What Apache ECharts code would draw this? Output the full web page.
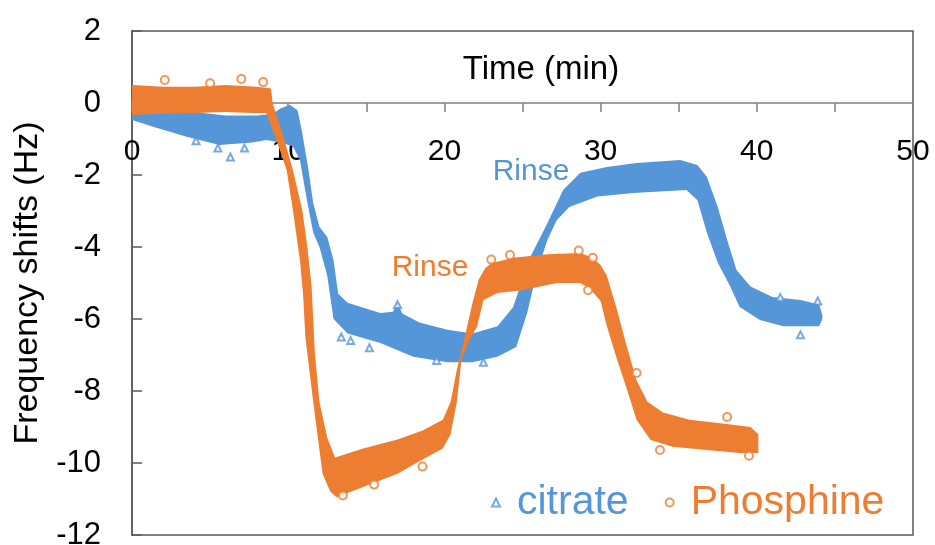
<!DOCTYPE html>
<html>
<head>
<meta charset="utf-8">
<script src="https://cdn.jsdelivr.net/npm/echarts@6/dist/echarts.min.js"></script>
<style>html,body{margin:0;padding:0;background:#fff}#c{width:935px;height:545px}</style>
</head>
<body>
<div id="c"></div>
<script>
// ---- data (Time in min, frequency shift in Hz) ----
// Phosphine band: upper/outer edge and lower/inner edge
var phosTopT = [0, 2, 4, 6, 8, 8.9, 9.0, 9.7, 10.3, 10.9, 11.2, 11.5, 11.7, 12.0, 12.5, 13.0, 14.8, 17.0, 18.6, 19.9, 20.4, 20.8, 21.3, 21.8, 22.2, 22.6, 23.0, 24.4, 26.6, 28.7, 29.5, 30.0, 30.4, 31.0, 31.7, 32.3, 33.0, 34.0, 35.7, 37.8, 39.6, 40.1];
var phosTopV = [0.5, 0.45, 0.45, 0.5, 0.45, 0.4, 0.0, -0.94, -1.86, -2.97, -3.9, -5.1, -6.9, -8.3, -9.3, -9.85, -9.6, -9.35, -9.1, -8.8, -8.3, -7.4, -6.5, -5.55, -4.9, -4.6, -4.45, -4.3, -4.2, -4.17, -4.3, -4.5, -4.8, -5.67, -6.8, -7.7, -8.3, -8.6, -8.8, -8.9, -9.0, -9.2];
var phosBotT = [0, 2, 4, 6, 7.7, 8.6, 9.3, 9.9, 10.3, 10.75, 10.95, 11.1, 11.6, 11.9, 12.2, 12.7, 13.1, 14.8, 17.0, 18.6, 19.9, 20.4, 20.8, 21.1, 21.6, 22.1, 22.5, 23.4, 25.0, 27.2, 28.7, 29.3, 30.0, 30.4, 31.0, 31.7, 32.3, 33.2, 34.6, 36.8, 38.9, 40.1];
var phosBotV = [-0.33, -0.3, -0.28, -0.25, -0.28, -0.28, -1.1, -1.86, -2.97, -4.36, -5.3, -6.5, -8.3, -9.3, -10.3, -10.8, -10.95, -10.67, -10.3, -9.9, -9.6, -9.2, -8.3, -7.1, -6.6, -6.2, -5.47, -5.28, -5.2, -5.0, -5.0, -5.15, -5.5, -6.2, -7.05, -7.97, -8.8, -9.36, -9.55, -9.64, -9.72, -9.72];
// citrate band
var citTopT = [0, 2, 4, 6, 8, 9.0, 9.5, 10.1, 10.6, 10.9, 11.3, 11.6, 12.0, 12.5, 12.9, 13.2, 13.8, 15.9, 16.7, 17.0, 17.3, 18.4, 20.2, 21.8, 23.4, 24.4, 25.5, 26.6, 27.6, 28.7, 30.4, 32.3, 35.1, 36.2, 36.8, 37.5, 38.1, 38.7, 39.6, 41.0, 42.8, 44.0, 44.2];
var citTopV = [-0.05, -0.15, -0.25, -0.35, -0.35, -0.3, -0.15, -0.05, -0.2, -0.83, -1.86, -2.78, -3.44, -3.72, -4.36, -5.3, -5.55, -5.83, -5.8, -5.55, -5.85, -6.1, -6.3, -6.4, -6.2, -5.67, -4.28, -3.33, -2.42, -1.94, -1.78, -1.67, -1.58, -1.72, -2.05, -2.89, -3.8, -4.64, -5.1, -5.39, -5.47, -5.6, -5.9];
var citBotT = [0, 1.35, 3.5, 5.6, 7.7, 8.6, 9.5, 10.3, 10.75, 11.2, 11.6, 12.0, 12.5, 12.9, 13.8, 15.9, 18.0, 20.2, 21.8, 23.4, 24.6, 25.3, 25.9, 26.6, 27.2, 28.0, 29.8, 32.1, 35.5, 36.2, 36.8, 37.5, 38.3, 38.9, 40.2, 41.7, 44.0, 44.2];
var citBotV = [-0.47, -0.66, -0.94, -1.17, -1.1, -1.03, -1.1, -1.2, -1.58, -2.7, -3.6, -4.0, -4.8, -6.0, -6.4, -6.67, -7.05, -7.2, -7.2, -7.05, -6.78, -5.83, -4.72, -3.8, -3.25, -2.89, -2.6, -2.5, -2.42, -2.7, -3.6, -4.44, -5.1, -5.67, -6.03, -6.2, -6.2, -6.0];
// scattered individual markers at the band edges
var citOutT = [5.5, 6.3, 7.2, 4.1, 15.2, 17.0, 14.0, 19.5, 22.5, 42.8, 43.9, 41.5, 13.4];
var citOutV = [-1.25, -1.5, -1.25, -1.05, -6.8, -5.6, -6.6, -7.15, -7.2, -6.44, -5.5, -5.4, -6.5];
var phosOutT = [2.1, 7.0, 8.4, 5.0, 24.2, 28.6, 29.5, 29.2, 18.6, 13.5, 38.1, 33.8, 32.3, 23.0, 39.5, 15.5];
var phosOutV = [0.64, 0.67, 0.58, 0.55, -4.22, -4.1, -4.3, -5.2, -10.1, -10.9, -8.72, -9.64, -7.5, -4.35, -9.8, -10.6];
var xTicks = [0, 10, 20, 30, 40, 50];
var yTicks = [-12, -10, -8, -6, -4, -2, 0, 2];

var BLUE = '#5596D8', ORANGE = '#ED7D31';
var FONT = '"Liberation Sans", Arial, sans-serif';
var Y_MIN = -12, Y_MAX = 2, GRID_TOP = 31, GRID_BOTTOM = 10, H = 545;

function zip(t, v) { return t.map(function (x, i) { return [x, v[i]]; }); }
function band(topT, topV, botT, botV) {
  return zip(topT, topV).concat(zip(botT, botV).reverse());
}
function polySeries(name, pts, color) {
  return {
    type: 'custom', name: name, silent: true,
    data: [pts[0]],
    renderItem: function (params, api) {
      return {
        type: 'polygon',
        shape: { points: pts.map(function (p) { return api.coord(p); }) },
        style: { fill: color }
      };
    }
  };
}
// x axis sits on y = 0: distance from the top of the grid to the zero line
var gridH = H - GRID_TOP - GRID_BOTTOM;
var zeroOffset = gridH * (Y_MAX - 0) / (Y_MAX - Y_MIN);

var chart = echarts.init(document.getElementById('c'), null, { renderer: 'canvas' });
chart.setOption({
  animation: false,
  backgroundColor: '#fff',
  textStyle: { fontFamily: FONT },
  grid: { left: 132, right: 22, top: GRID_TOP, bottom: GRID_BOTTOM, containLabel: false, outerBoundsMode: 'none',
          show: true, borderColor: '#595959', borderWidth: 1.5, backgroundColor: 'transparent' },
  xAxis: {
    type: 'value', min: 0, max: 50, interval: 5, position: 'top', offset: -zeroOffset,
    axisLine: { onZero: false, lineStyle: { color: '#808080', width: 1.5 } },
    axisTick: { show: true, inside: true, length: 9, lineStyle: { color: '#808080', width: 1.5 } },
    axisLabel: {
      inside: true, margin: 34, color: '#000', fontSize: 30, fontFamily: FONT,
      formatter: function (v) { return xTicks.indexOf(v) >= 0 ? String(v) : ''; }
    },
    splitLine: { show: false }
  },
  yAxis: {
    type: 'value', min: Y_MIN, max: Y_MAX, interval: 2,
    name: 'Frequency shifts (Hz)', nameLocation: 'middle', nameGap: 87,
    nameTextStyle: { fontSize: 34, color: '#000', fontFamily: FONT },
    axisLine: { show: true, onZero: false, lineStyle: { color: '#595959', width: 1.5 } },
    axisTick: { show: true, inside: true, length: 10, lineStyle: { color: '#595959', width: 1.5 } },
    axisLabel: {
      margin: 31, color: '#000', fontSize: 31, fontFamily: FONT,
      formatter: function (v) { return yTicks.indexOf(v) >= 0 ? String(v) : ''; }
    },
    splitLine: { show: false }
  },
  legend: {
    left: 486, top: 477, orient: 'horizontal',
    itemWidth: 8, itemHeight: 8, itemGap: 36,
    textStyle: { fontSize: 41, fontFamily: FONT, padding: [0, 0, 0, 12] },
    data: [
      { name: 'citrate', textStyle: { color: BLUE } },
      { name: 'Phosphine', textStyle: { color: ORANGE } }
    ]
  },
  graphic: [
    { type: 'text', x: 541, y: 70, style: { text: 'Time (min)', fill: '#000', font: '33px ' + FONT, textAlign: 'center', textVerticalAlign: 'middle' } },
    { type: 'text', x: 531, y: 172, style: { text: 'Rinse', fill: BLUE, font: '30px ' + FONT, textAlign: 'center', textVerticalAlign: 'middle' } },
    { type: 'text', x: 430, y: 268, style: { text: 'Rinse', fill: ORANGE, font: '30px ' + FONT, textAlign: 'center', textVerticalAlign: 'middle' } }
  ],
  series: [
    polySeries('citrate band', band(citTopT, citTopV, citBotT, citBotV), BLUE),
    {
      type: 'scatter', name: 'citrate', symbol: 'emptyTriangle', symbolSize: 7,
      itemStyle: { color: BLUE, borderWidth: 1 },
      data: zip(citOutT, citOutV)
    },
    polySeries('Phosphine band', band(phosTopT, phosTopV, phosBotT, phosBotV), ORANGE),
    {
      type: 'scatter', name: 'Phosphine', symbol: 'emptyCircle', symbolSize: 8,
      itemStyle: { color: ORANGE, borderWidth: 1 },
      data: zip(phosOutT, phosOutV)
    }
  ]
});
</script>
</body>
</html>
